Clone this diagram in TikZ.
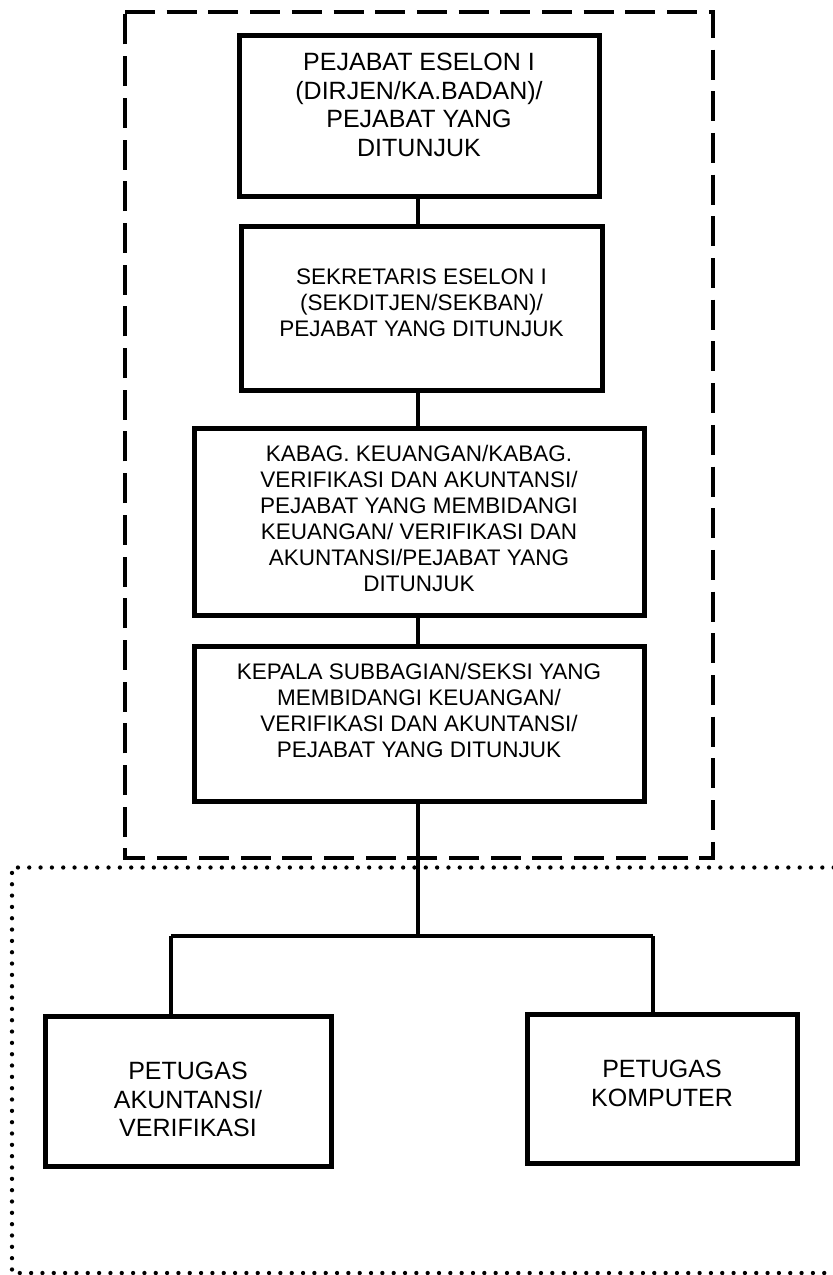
\documentclass[tikz,border=0pt]{standalone}
\usepackage{fontspec}
\setmainfont{Liberation Sans}
\begin{document}
\begin{tikzpicture}[x=1pt,y=-1pt,
  box/.style={draw, line width=5pt, rectangle, inner sep=0pt},
  conn/.style={line width=4.3pt},
  bigtxt/.style={anchor=north, inner sep=0pt, align=center, font=\fontsize{25}{28.5}\selectfont},
  smalltxt/.style={anchor=north, inner sep=0pt, align=center, font=\fontsize{22.5}{25.9}\selectfont},
  dashbox/.style={line width=3.5pt, dash pattern=on 30pt off 11.7pt},
  dotbox/.style={line width=4.3pt, dash pattern=on 0pt off 11.33pt, line cap=round}]
\useasboundingbox (0,0) rectangle (833,1275);
\fill[white] (0,0) rectangle (833,1275);

% frames
\draw[dashbox] (125,12) -- (713,12) -- (713,858) -- (125,858) -- cycle;
\draw[dotbox] (845,867.5) -- (12,867.5) -- (12,1273) -- (845,1273);

% boxes
\node[box, minimum width=360pt, minimum height=161pt] (b1) at (419,115.5) {};
\node[box, minimum width=361pt, minimum height=164pt] (b2) at (421.5,308) {};
\node[box, minimum width=450pt, minimum height=187pt] (b3) at (419,521.5) {};
\node[box, minimum width=450pt, minimum height=155pt] (b4) at (419,723.5) {};
\node[box, minimum width=286pt, minimum height=150pt] (b5) at (188,1091) {};
\node[box, minimum width=270pt, minimum height=149pt] (b6) at (662,1088.5) {};

% texts
\node[bigtxt] (t1) at (419,53) {PEJABAT ESELON I\\(DIRJEN/KA.BADAN)/\\PEJABAT YANG\\DITUNJUK};
\node[smalltxt] (t2) at (421.5,269) {SEKRETARIS ESELON I\\(SEKDITJEN/SEKBAN)/\\PEJABAT YANG DITUNJUK};
\node[smalltxt] (t3) at (419,445) {KABAG. KEUANGAN/KABAG.\\VERIFIKASI DAN AKUNTANSI/\\PEJABAT YANG MEMBIDANGI\\KEUANGAN/ VERIFIKASI DAN\\AKUNTANSI/PEJABAT YANG\\DITUNJUK};
\node[smalltxt] (t4) at (419,663) {KEPALA SUBBAGIAN/SEKSI YANG\\MEMBIDANGI KEUANGAN/\\VERIFIKASI DAN AKUNTANSI/\\PEJABAT YANG DITUNJUK};
\node[bigtxt] (t5) at (188,1062) {PETUGAS\\AKUNTANSI/\\VERIFIKASI};
\node[bigtxt] (t6) at (662,1060) {PETUGAS\\KOMPUTER};

% connectors
\coordinate (j) at (418,936);
\coordinate (jl) at (171,936);
\coordinate (jr) at (653,936);
\draw[conn] (b1.south -| j) -- (b2.north -| j);
\draw[conn] (b2.south -| j) -- (b3.north -| j);
\draw[conn] (b3.south -| j) -- (b4.north -| j);
\draw[conn] (b4.south -| j) -- ([yshift=-2pt]j);
\draw[conn] (jl) -- (jr);
\draw[conn] (jl) -- (jl |- b5.north);
\draw[conn] (jr) -- (jr |- b6.north);
\end{tikzpicture}
\end{document}
